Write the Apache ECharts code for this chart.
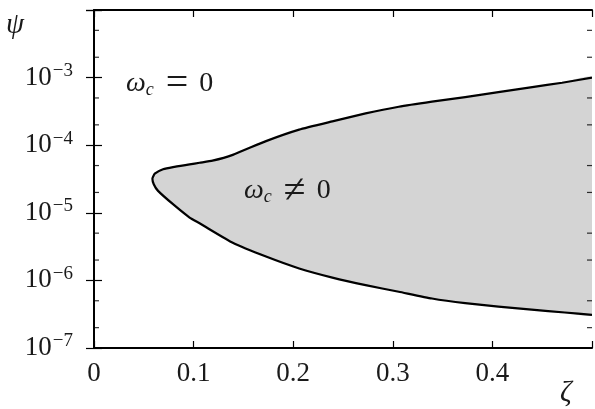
<!DOCTYPE html>
<html>
<head>
<meta charset="utf-8">
<script src="https://cdn.jsdelivr.net/npm/echarts@6/dist/echarts.min.js"></script>
<style>
  html, body { margin: 0; padding: 0; background: #fff; }
  #chart { width: 595px; height: 409px; }
</style>
</head>
<body>
<div id="chart"></div>
<script>
// boundary of the region where omega_c != 0
// upper branch, from the tip to the right edge
const upperZeta = [0.0587, 0.061, 0.0693, 0.0793, 0.096, 0.106, 0.119, 0.1393, 0.1727, 0.206, 0.2393, 0.2727, 0.306, 0.3393, 0.3727, 0.406, 0.44, 0.47, 0.5];
const upperPsi = [3.24e-5, 3.79e-5, 4.4e-5, 4.75e-5, 5.2e-5, 5.5e-5, 5.9e-5, 7.2e-5, 1.15e-4, 1.7e-4, 2.25e-4, 2.95e-4, 3.7e-4, 4.4e-4, 5.15e-4, 6.1e-4, 7.25e-4, 8.4e-4, 1.0e-3];
// lower branch, from the tip to the right edge
const lowerZeta = [0.0587, 0.06, 0.0643, 0.0793, 0.096, 0.106, 0.1127, 0.1393, 0.1727, 0.206, 0.2393, 0.2727, 0.306, 0.3393, 0.3727, 0.406, 0.4393, 0.4727, 0.5];
const lowerPsi = [3.24e-5, 2.64e-5, 2.11e-5, 1.34e-5, 8.5e-6, 7.0e-6, 6.1e-6, 3.6e-6, 2.25e-6, 1.5e-6, 1.1e-6, 8.5e-7, 6.8e-7, 5.4e-7, 4.6e-7, 4.1e-7, 3.7e-7, 3.35e-7, 3.1e-7];

const xTicks = [0, 0.1, 0.2, 0.3, 0.4];
// minor ticks of the log axis at 2 and 5 of every decade
const minorPsi = [2e-7, 5e-7, 2e-6, 5e-6, 2e-5, 5e-5, 2e-4, 5e-4, 2e-3, 5e-3];

const serif = '"Liberation Serif", "DejaVu Serif", serif';
const ink = '#1a1a1a';

const boundary = upperZeta.map((z, i) => [z, upperPsi[i]]).reverse()
  .concat(lowerZeta.map((z, i) => [z, lowerPsi[i]]).slice(1));

const chart = echarts.init(document.getElementById('chart'));

const yLabel = (v) => {
  const e = Math.round(Math.log10(v));
  if (e > -3) return '';
  return '{b|10}{s|\u2212' + (-e) + '}';
};

const yAxisBase = {
  type: 'log',
  logBase: 10,
  min: 1e-7,
  max: 1e-2,
  splitLine: { show: false },
  axisTick: { show: true, inside: true, length: 8, lineStyle: { color: '#000', width: 1.2 } }
};

// omega_c annotations, math style
const omegaRich = {
  w: { font: 'italic 28px ' + serif, fill: ink },
  c: { font: 'italic 18px ' + serif, fill: ink, padding: [12, 0, 0, 0] },
  op: { font: '40px ' + serif, fill: ink, padding: [0, 11, 0, 12] },
  n: { font: '28px ' + serif, fill: ink }
};

chart.setOption({
  animation: false,
  backgroundColor: '#fff',
  grid: { left: 94, top: 10, right: 0, bottom: 61 },
  xAxis: [
    {
      type: 'value', min: 0, max: 0.5, interval: 0.1, position: 'bottom',
      splitLine: { show: false },
      axisLine: { lineStyle: { color: '#000', width: 2 } },
      axisTick: { inside: true, length: 7, lineStyle: { color: '#000', width: 1.2 } },
      axisLabel: {
        margin: 12, color: ink, fontFamily: serif, fontSize: 27,
        formatter: (v) => (xTicks.some(t => Math.abs(t - v) < 1e-9) ? String(+v.toFixed(1)) : '')
      }
    },
    {
      type: 'value', min: 0, max: 0.5, interval: 0.1, position: 'top',
      splitLine: { show: false },
      axisLine: { show: true, lineStyle: { color: '#000', width: 2 } },
      axisTick: { inside: true, length: 7, lineStyle: { color: '#000', width: 1.2 } },
      axisLabel: { show: false }
    }
  ],
  yAxis: [
    Object.assign({}, yAxisBase, {
      position: 'left',
      axisLine: { show: true, lineStyle: { color: '#000', width: 2 } },
      axisLabel: {
        margin: 21, color: ink, fontFamily: serif, fontSize: 27,
        formatter: yLabel,
        rich: {
          b: { fontFamily: serif, fontSize: 27, color: ink },
          s: { fontFamily: serif, fontSize: 19, color: ink, padding: [0, 0, 13, 1] }
        }
      }
    }),
    Object.assign({}, yAxisBase, {
      position: 'right',
      axisLine: { show: false },
      axisLabel: { show: false }
    })
  ],
  graphic: [
    { type: 'text', z: 100, left: 6, top: 11, style: { text: 'ψ', font: 'italic 29px ' + serif, fill: ink } },
    { type: 'text', z: 100, left: 560, top: 379, style: { text: 'ζ', font: 'italic 29px ' + serif, fill: ink } },
    {
      type: 'text', z: 100, left: 126, top: 64,
      style: { text: '{w|ω}{c|c}{op|=}{n|0}', rich: omegaRich }
    },
    {
      type: 'text', z: 100, left: 244, top: 171,
      style: { text: '{w|ω}{c|c}{op|≠}{n|0}', rich: omegaRich }
    }
  ],
  series: [
    {
      type: 'custom',
      coordinateSystem: 'cartesian2d',
      clip: true,
      data: [[0.25, 1e-5]],
      renderItem: (params, api) => {
        const pts = boundary.map(p => api.coord(p));
        return {
          type: 'group',
          children: [
            { type: 'polygon', shape: { points: pts, smooth: 0.15 }, style: { fill: '#d4d4d4', stroke: null } },
            { type: 'polyline', shape: { points: pts, smooth: 0.15 }, style: { fill: null, stroke: '#000', lineWidth: 2.2 } }
          ]
        };
      }
    },
    {
      type: 'scatter', clip: false, silent: true,
      symbol: 'rect', symbolSize: [5, 1.2], symbolOffset: [2.5, 0],
      itemStyle: { color: '#000' },
      data: minorPsi.map(v => [0, v])
    },
    {
      type: 'scatter', clip: false, silent: true,
      symbol: 'rect', symbolSize: [5, 1.2], symbolOffset: [-2.5, 0],
      itemStyle: { color: '#000' },
      data: minorPsi.map(v => [0.5, v])
    }
  ]
});
</script>
</body>
</html>
